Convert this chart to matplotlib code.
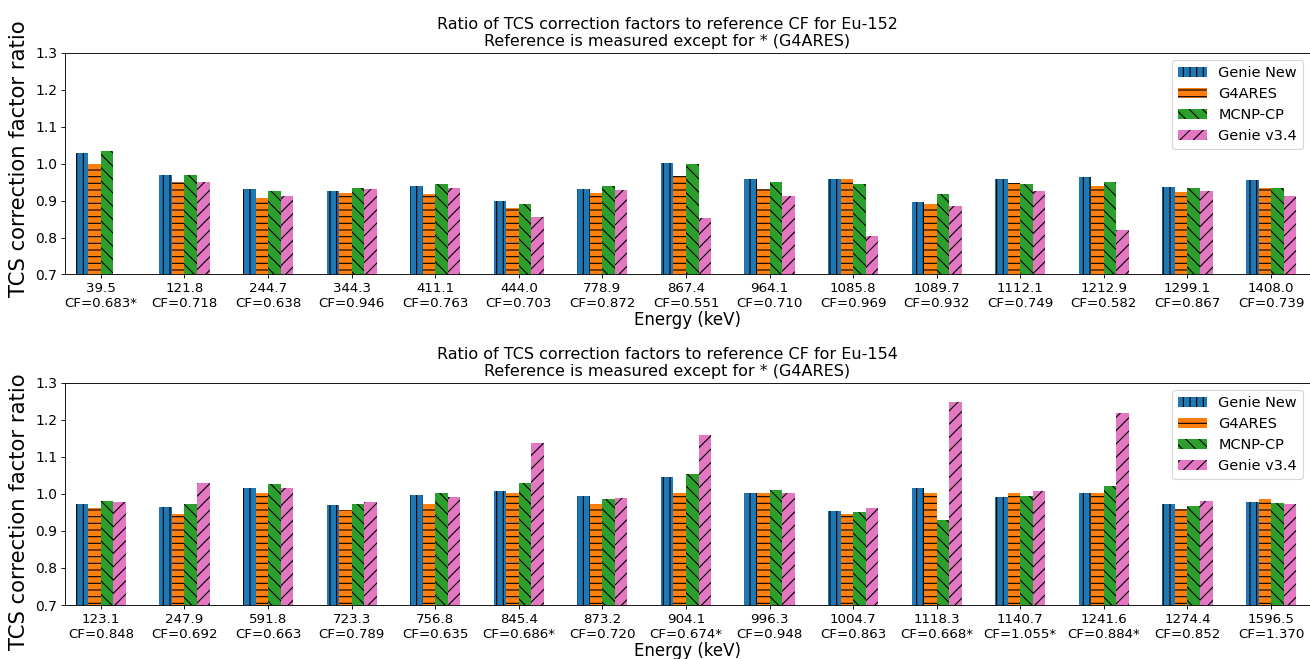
import matplotlib.pyplot as plt
import numpy as np

# Eu-152 lines
energies_152 = ["39.5", "121.8", "244.7", "344.3", "411.1", "444.0", "778.9", "867.4",
                "964.1", "1085.8", "1089.7", "1112.1", "1212.9", "1299.1", "1408.0"]
ref_cf_152 = ["0.683*", "0.718", "0.638", "0.946", "0.763", "0.703", "0.872", "0.551",
              "0.710", "0.969", "0.932", "0.749", "0.582", "0.867", "0.739"]
genie_new_152 = [1.028, 0.970, 0.930, 0.927, 0.940, 0.898, 0.930, 1.001,
                 0.957, 0.957, 0.897, 0.957, 0.963, 0.936, 0.955]
g4ares_152 = [1.000, 0.951, 0.906, 0.921, 0.919, 0.881, 0.921, 0.966,
              0.932, 0.957, 0.891, 0.947, 0.939, 0.923, 0.935]
mcnp_152 = [1.035, 0.968, 0.927, 0.934, 0.946, 0.892, 0.940, 1.000,
            0.949, 0.946, 0.918, 0.945, 0.951, 0.933, 0.933]
genie_v34_152 = [np.nan, 0.951, 0.913, 0.930, 0.934, 0.855, 0.928, 0.853,
                 0.912, 0.803, 0.886, 0.925, 0.820, 0.926, 0.912]

# Eu-154 lines
energies_154 = ["123.1", "247.9", "591.8", "723.3", "756.8", "845.4", "873.2", "904.1",
                "996.3", "1004.7", "1118.3", "1140.7", "1241.6", "1274.4", "1596.5"]
ref_cf_154 = ["0.848", "0.692", "0.663", "0.789", "0.635", "0.686*", "0.720", "0.674*",
              "0.948", "0.863", "0.668*", "1.055*", "0.884*", "0.852", "1.370"]
genie_new_154 = [0.973, 0.964, 1.017, 0.970, 0.998, 1.009, 0.994, 1.045,
                 1.003, 0.953, 1.017, 0.991, 1.001, 0.973, 0.977]
g4ares_154 = [0.963, 0.945, 1.001, 0.956, 0.973, 1.001, 0.972, 1.001,
              1.003, 0.946, 1.001, 1.001, 1.001, 0.960, 0.985]
mcnp_154 = [0.981, 0.972, 1.026, 0.972, 1.001, 1.029, 0.987, 1.054,
            1.011, 0.951, 0.930, 0.994, 1.020, 0.966, 0.975]
genie_v34_154 = [0.979, 1.030, 1.017, 0.979, 0.992, 1.138, 0.989, 1.159,
                 1.001, 0.963, 1.249, 1.009, 1.217, 0.981, 0.972]

codes = ["Genie New", "G4ARES", "MCNP-CP", "Genie v3.4"]
colors = ["#1f77b4", "#ff7f0e", "#2ca02c", "#e377c2"]
hatches = ["||", "--", "\\\\", "//"]


def plot_panel(ax, isotope, energies, cfs, series, ylabel_y):
    x = np.arange(len(energies))
    width = 0.15
    for i, vals in enumerate(series):
        ax.bar(x + (i - 1.5) * width, vals, width, color=colors[i],
               hatch=hatches[i], label=codes[i])
    labels = [e + "\nCF=" + c for e, c in zip(energies, cfs)]
    ax.set_xticks(x)
    ax.set_xticklabels(labels, fontsize=12)
    ax.tick_params(axis="y", labelsize=12.5)
    ax.set_xlim(-0.43, 14.466)
    ax.set_ylim(0.7, 1.3)
    ax.set_xlabel("Energy (keV)", fontsize=15, labelpad=1)
    ax.set_ylabel("TCS correction factor ratio", fontsize=19)
    ax.yaxis.set_label_coords(-0.029, ylabel_y)
    ax.set_title("Ratio of TCS correction factors to reference CF for " + isotope
                 + "\nReference is measured except for * (G4ARES)",
                 fontsize=14.4, x=0.4835)
    ax.spines["right"].set_visible(False)
    ax.legend(loc="upper right", fontsize=13)


fig = plt.figure(figsize=(16.375, 8.2375), dpi=80)
ax1 = fig.add_axes([0.0496, 0.5835, 0.9504, 0.3365])
ax2 = fig.add_axes([0.0496, 0.0819, 0.9504, 0.3374])

plot_panel(ax1, "Eu-152", energies_152, ref_cf_152,
           [genie_new_152, g4ares_152, mcnp_152, genie_v34_152], 0.52)
plot_panel(ax2, "Eu-154", energies_154, ref_cf_154,
           [genie_new_154, g4ares_154, mcnp_154, genie_v34_154], 0.42)

fig.savefig("out.png", dpi=80)
